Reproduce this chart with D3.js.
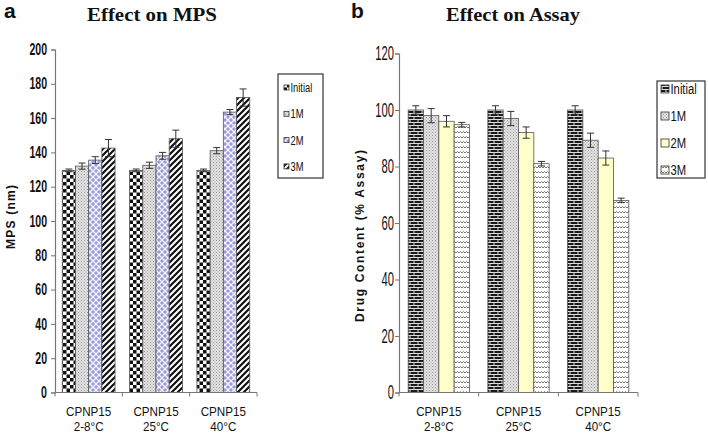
<!DOCTYPE html>
<html><head><meta charset="utf-8">
<script src="https://cdn.jsdelivr.net/npm/d3@7"></script>
<style>
body{margin:0;background:#fff;}
svg{display:block;}
</style></head>
<body><svg id="c" width="708" height="434"></svg>
<script>
const categories = ["CPNP15|2-8°C", "CPNP15|25°C", "CPNP15|40°C"];
const seriesNames = ["Initial", "1M", "2M", "3M"];
const mpsValues = [
  [129.5, 132, 135.5, 142.5],
  [129.5, 132.5, 138, 148],
  [129.5, 141, 163.5, 172]
];
const mpsErrors = [
  [0.8, 1.8, 2, 5],
  [0.8, 1.8, 2, 5],
  [0.8, 1.8, 1.5, 5]
];
const assayValues = [
  [100, 98, 96, 94.8],
  [100, 97, 92, 81],
  [100, 89.3, 83, 68]
];
const assayErrors = [
  [1.5, 2.5, 2, 0.8],
  [1.5, 2.5, 2, 0.8],
  [1.5, 2.5, 2.5, 0.8]
];
const mpsTicks = [0, 20, 40, 60, 80, 100, 120, 140, 160, 180, 200];
const assayTicks = [0, 20, 40, 60, 80, 100, 120];

const SANS = "Liberation Sans, Arial, sans-serif";
const svg = d3.select("#c");
const defs = svg.append("defs");

function pat(id, w, h, build) {
  const p = defs.append("pattern").attr("id", id).attr("patternUnits", "userSpaceOnUse")
    .attr("width", w).attr("height", h);
  build(p);
}
pat("checker", 7, 7, p => {
  p.append("rect").attr("width", 7).attr("height", 7).attr("fill", "#fff");
  p.append("rect").attr("width", 3.5).attr("height", 3.5).attr("fill", "#111");
  p.append("rect").attr("x", 3.5).attr("y", 3.5).attr("width", 3.5).attr("height", 3.5).attr("fill", "#111");
});
pat("dots", 3, 3, p => {
  p.append("rect").attr("width", 3).attr("height", 3).attr("fill", "#e2e2e2");
  p.append("rect").attr("width", 1).attr("height", 1).attr("fill", "#999");
  p.append("rect").attr("x", 1.5).attr("y", 1.5).attr("width", 1).attr("height", 1).attr("fill", "#aaa");
});
pat("lattice", 6, 6, p => {
  p.append("rect").attr("width", 6).attr("height", 6).attr("fill", "#9a9ae0");
  p.append("path").attr("d", "M0,0L6,6M6,0L0,6").attr("stroke", "#f4f4ff").attr("stroke-width", 1.3);
});
pat("stripes", 6, 6, p => {
  p.append("rect").attr("width", 6).attr("height", 6).attr("fill", "#fff");
  p.append("path").attr("d", "M-1.5,7.5L7.5,-1.5M-1.5,1.5L1.5,-1.5M4.5,7.5L7.5,4.5").attr("stroke", "#111").attr("stroke-width", 2.2);
});
pat("brick", 8, 6, p => {
  p.append("rect").attr("width", 8).attr("height", 6).attr("fill", "#1a1a1a");
  p.append("path").attr("d", "M0,2.5H8M0,5.5H8M2,0V2.5M6,3V5.5").attr("stroke", "#ddd").attr("stroke-width", 1);
});
pat("wave", 6, 5, p => {
  p.append("rect").attr("width", 6).attr("height", 5).attr("fill", "#fff");
  p.append("path").attr("d", "M0,3L1.5,1.5L3,3L4.5,1.5L6,3").attr("stroke", "#777").attr("stroke-width", 1).attr("fill", "none");
});

const mpsFills = ["url(#checker)", "url(#dots)", "url(#lattice)", "url(#stripes)"];
const assayFills = ["url(#brick)", "url(#dots)", "#ffffcc", "url(#wave)"];

function ctext(parent, x, y, s, str, size, anchor, weight) {
  return parent.append("text")
    .attr("transform", `translate(${x},${y}) scale(${s},1)`)
    .attr("text-anchor", anchor || "start")
    .style("font-family", SANS).style("font-size", size + "px")
    .style("font-weight", weight || "normal").attr("fill", "#111").text(str);
}

function panel(cfg) {
  const g = svg.append("g");
  const x = d3.scaleBand().domain(categories).range([cfg.x0, cfg.x1]).paddingInner(0).paddingOuter(0);
  const xs = d3.scaleBand().domain(seriesNames).range([0, x.bandwidth()]).paddingOuter(cfg.padOuter).paddingInner(0);
  const y = d3.scaleLinear().domain([0, cfg.max]).range([cfg.y0, cfg.y1]);

  cfg.values.forEach((row, i) => {
    row.forEach((v, j) => {
      const bx = x(categories[i]) + xs(seriesNames[j]);
      g.append("rect").attr("x", bx).attr("y", y(v)).attr("width", xs.bandwidth()).attr("height", y(0) - y(v))
        .attr("fill", cfg.fills[j]).attr("stroke", "#555").attr("stroke-width", 0.8);
      const e = cfg.errors[i][j];
      const cx = bx + xs.bandwidth() / 2;
      g.append("path").attr("d", `M${cx},${y(v + e)}V${y(v - e)}M${cx - 3.5},${y(v + e)}H${cx + 3.5}M${cx - 3.5},${y(v - e)}H${cx + 3.5}`)
        .attr("stroke", "#333").attr("stroke-width", 1).attr("fill", "none");
    });
  });

  const ya = g.append("g").attr("transform", `translate(${cfg.x0},0)`)
    .call(d3.axisLeft(y).tickValues(cfg.ticks).tickSize(4).tickPadding(3));
  ya.select(".domain").attr("stroke", "#777").attr("stroke-width", 1.2);
  ya.selectAll(".tick line").attr("stroke", "#777");
  ya.selectAll(".tick text").attr("x", -cfg.tickGap / cfg.tickScale)
    .attr("transform", `scale(${cfg.tickScale},1)`)
    .attr("fill", "#111").style("font-family", SANS)
    .style("font-size", cfg.tickSize + "px").style("font-weight", cfg.tickWeight);

  const xa = g.append("g").attr("transform", `translate(0,${cfg.y0})`);
  xa.append("line").attr("x1", cfg.x0).attr("x2", cfg.x1).attr("y1", 0).attr("y2", 0).attr("stroke", "#777").attr("stroke-width", 1.2);
  const bounds = categories.map(c => x(c)).concat([cfg.x1]);
  bounds.forEach(b => xa.append("line").attr("x1", b).attr("x2", b).attr("y1", 0).attr("y2", 4).attr("stroke", "#777"));
  categories.forEach(c => {
    const parts = c.split("|");
    const cx = x(c) + x.bandwidth() / 2;
    ctext(xa, cx, 23, 0.93, parts[0], 12.5, "middle");
    ctext(xa, cx, 38, 0.93, parts[1], 12.5, "middle");
  });

  svg.append("text").attr("transform", `translate(${cfg.ylabX},${cfg.ylabY}) rotate(-90)`)
    .attr("text-anchor", "middle").style("font-family", SANS)
    .attr("textLength", cfg.ylabLen).attr("lengthAdjust", "spacing")
    .style("font-weight", "bold").style("font-size", "12px").attr("fill", "#111").text(cfg.ylab);

  svg.append("text").attr("x", cfg.titleX).attr("y", 21).attr("text-anchor", "middle")
    .attr("textLength", cfg.titleLen).attr("lengthAdjust", "spacingAndGlyphs")
    .style("font-family", "Liberation Serif, Times New Roman, serif").style("font-weight", "bold")
    .style("font-size", "19px").attr("fill", "#111").text(cfg.title);
  svg.append("text").attr("x", cfg.letterX).attr("y", 18)
    .style("font-family", SANS).style("font-weight", "bold")
    .style("font-size", "21px").attr("fill", "#111").text(cfg.letter);

  const lg = svg.append("g");
  lg.append("rect").attr("x", cfg.lx).attr("y", cfg.ly).attr("width", cfg.lw).attr("height", cfg.lh)
    .attr("fill", "#fff").attr("stroke", "#333").attr("stroke-width", 1.2);
  seriesNames.forEach((s, j) => {
    const yy = cfg.ly + cfg.lfirst + j * cfg.lstep;
    lg.append("rect").attr("x", cfg.lx + cfg.sx).attr("y", yy - cfg.sw / 2).attr("width", cfg.sw).attr("height", cfg.sw)
      .attr("fill", cfg.fills[j]).attr("stroke", "#333").attr("stroke-width", 0.8);
    ctext(lg, cfg.lx + cfg.sx + cfg.sw + 1.5, yy + cfg.lfont * 0.36, cfg.lscale, s, cfg.lfont, "start");
  });
}

panel({
  x0: 55, x1: 257, y0: 392.5, y1: 49.5, max: 200, ticks: mpsTicks, padOuter: 0.55,
  values: mpsValues, errors: mpsErrors, fills: mpsFills,
  tickSize: 16, tickWeight: "bold", tickScale: 0.66, tickGap: 8,
  ylab: "MPS (nm)", ylabLen: 64, ylabX: 15, ylabY: 217, title: "Effect on MPS", titleLen: 130, titleX: 152,
  letter: "a", letterX: 4,
  lx: 278, ly: 74, lw: 45, lh: 104, lfirst: 13.5, lstep: 26.3, sw: 5, sx: 6, lfont: 13, lscale: 0.72
});
panel({
  x0: 399, x1: 638, y0: 392.5, y1: 53.5, max: 120, ticks: assayTicks, padOuter: 0.6,
  values: assayValues, errors: assayErrors, fills: assayFills,
  tickSize: 20, tickWeight: "normal", tickScale: 0.56, tickGap: 5,
  ylab: "Drug Content (% Assay)", ylabLen: 172, ylabX: 364, ylabY: 236, title: "Effect on Assay", titleLen: 134, titleX: 513,
  letter: "b", letterX: 351,
  lx: 657, ly: 81, lw: 48, lh: 97, lfirst: 8, lstep: 27, sw: 8, sx: 4, lfont: 15, lscale: 0.75
});
</script></body></html>
